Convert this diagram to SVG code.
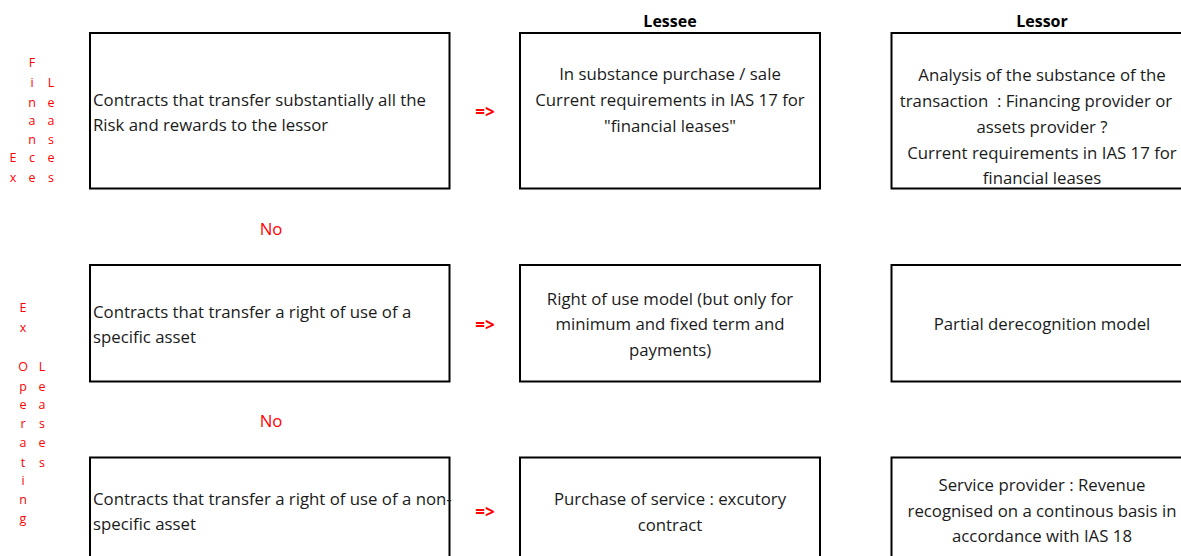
<svg xmlns="http://www.w3.org/2000/svg" width="1181" height="556" viewBox="0 0 1181 556">
<style>
.box{fill:#fff;stroke:#000;stroke-width:2}
text{font-family:"Open Sans","Liberation Sans",Arial,sans-serif;font-size:16.8px;fill:#1a1a1a}
.c{text-anchor:middle}
.h{font-weight:bold;text-anchor:middle;font-size:16px;fill:#000}
.r{fill:#ff0000}
.arr{fill:#ff0000;font-weight:bold;font-size:17px;text-anchor:middle}
.v{fill:#ff0000;font-size:12.5px;text-anchor:middle}
</style>
<rect width="1181" height="556" fill="#fff"/>
<text class="h" x="670" y="27">Lessee</text>
<text class="h" x="1042" y="27">Lessor</text>
<g id="side-finance">
<text class="v" x="32" y="67">F</text>
<text class="v" x="32" y="87">i</text><text class="v" x="51" y="87">L</text>
<text class="v" x="32" y="107">n</text><text class="v" x="51" y="107">e</text>
<text class="v" x="32" y="125">a</text><text class="v" x="51" y="125">a</text>
<text class="v" x="32" y="144">n</text><text class="v" x="51" y="144">s</text>
<text class="v" x="13" y="162">E</text><text class="v" x="32" y="162">c</text><text class="v" x="51" y="162">e</text>
<text class="v" x="13" y="182">x</text><text class="v" x="32" y="182">e</text><text class="v" x="51" y="182">s</text>
</g>
<g id="side-operating">
<text class="v" x="23" y="312">E</text>
<text class="v" x="23" y="332">x</text>
<text class="v" x="23" y="371">O</text><text class="v" x="42" y="371">L</text>
<text class="v" x="23" y="391">p</text><text class="v" x="42" y="391">e</text>
<text class="v" x="23" y="409">e</text><text class="v" x="42" y="409">a</text>
<text class="v" x="23" y="428">r</text><text class="v" x="42" y="428">s</text>
<text class="v" x="23" y="447">a</text><text class="v" x="42" y="447">e</text>
<text class="v" x="23" y="467">t</text><text class="v" x="42" y="467">s</text>
<text class="v" x="23" y="485">i</text>
<text class="v" x="23" y="504">n</text>
<text class="v" x="23" y="523">g</text>
</g>
<g id="connectors">
<text class="arr" x="485" y="118">=&gt;</text>
<text class="arr" x="485" y="331">=&gt;</text>
<text class="arr" x="485" y="518">=&gt;</text>
<text class="r c" x="271" y="235">No</text>
<text class="r c" x="271" y="427">No</text>
</g>
<g id="n1a"><rect class="box" x="90" y="33" width="359.5" height="155.5"/>
<text x="93" y="106">Contracts that transfer substantially all the</text>
<text x="93" y="131">Risk and rewards to the lessor</text></g>
<g id="n1b"><rect class="box" x="520" y="33" width="300" height="155.5"/>
<text class="c" x="670" y="80">In substance purchase / sale</text>
<text class="c" x="670" y="106">Current requirements in IAS 17 for</text>
<text class="c" x="670" y="132">"financial leases"</text></g>
<g id="n1c"><rect class="box" x="891.5" y="33" width="310" height="155.5"/>
<text class="c" x="1042" y="81">Analysis of the substance of the</text>
<text class="c" x="1036" y="107" xml:space="preserve">transaction  : Financing provider or</text>
<text class="c" x="1042" y="133">assets provider ?</text>
<text class="c" x="1042" y="159">Current requirements in IAS 17 for</text>
<text class="c" x="1042" y="184">financial leases</text></g>
<g id="n2a"><rect class="box" x="90" y="265" width="359.5" height="116.5"/>
<text x="93" y="318">Contracts that transfer a right of use of a</text>
<text x="93" y="343">specific asset</text></g>
<g id="n2b"><rect class="box" x="520" y="265" width="300" height="116.5"/>
<text class="c" x="670" y="305">Right of use model (but only for</text>
<text class="c" x="670" y="330">minimum and fixed term and</text>
<text class="c" x="670" y="356">payments)</text></g>
<g id="n2c"><rect class="box" x="891.5" y="265" width="310" height="116.5"/>
<text class="c" x="1042" y="330">Partial derecognition model</text></g>
<g id="n3a"><rect class="box" x="90" y="457.5" width="359.5" height="120"/>
<text x="93" y="505">Contracts that transfer a right of use of a non-</text>
<text x="93" y="530">specific asset</text></g>
<g id="n3b"><rect class="box" x="520" y="457.5" width="300" height="120"/>
<text class="c" x="670" y="505">Purchase of service : excutory</text>
<text class="c" x="670" y="531">contract</text></g>
<g id="n3c"><rect class="box" x="891.5" y="457.5" width="310" height="120"/>
<text class="c" x="1042" y="491">Service provider : Revenue</text>
<text class="c" x="1042" y="517">recognised on a continous basis in</text>
<text class="c" x="1042" y="542">accordance with IAS 18</text></g>
</svg>
